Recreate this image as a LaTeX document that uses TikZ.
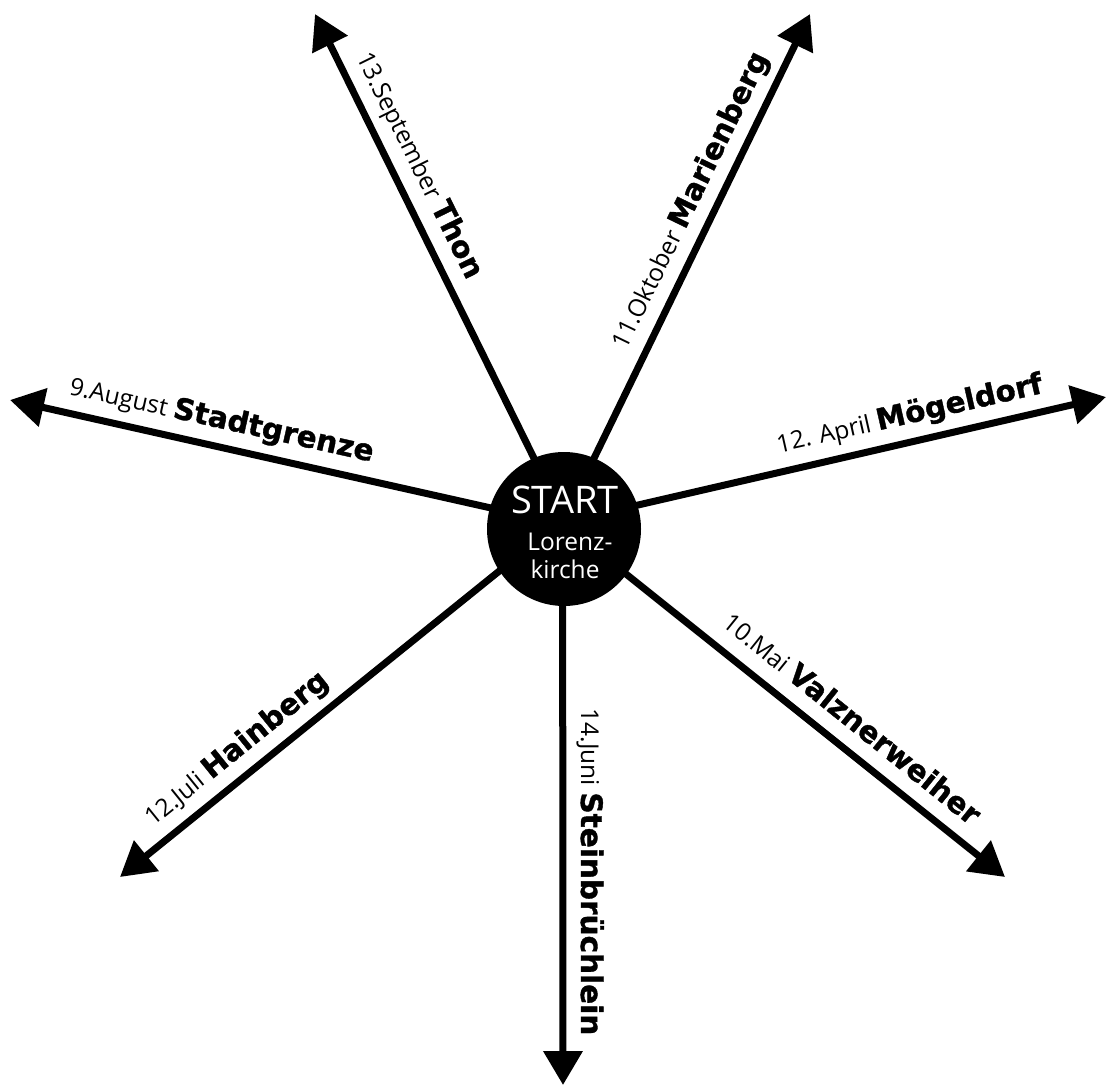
\documentclass[tikz,border=0pt]{standalone}
\usepackage{fontspec}
\setmainfont{Open Sans}
\newfontfamily\heavyfont{DejaVu Sans}[BoldFeatures={FakeBold=1.2}]
\usetikzlibrary{arrows.meta}
\newcommand{\lhvy}[1]{{\heavyfont\bfseries\fontsize{29.5}{33}\selectfont #1}}
\begin{document}
\begin{tikzpicture}[x=1pt, y=-1pt,
  spoke/.style={-{Triangle[length=34pt,width=38pt]}, line width=7pt, shorten <=-4pt},
  lbl/.style={anchor=base, inner sep=0pt, font=\fontsize{24.5}{28}\selectfont},
  hub/.style={circle, fill=black, minimum size=154pt, inner sep=0pt},
  hubtext/.style={anchor=base, inner sep=0pt, text=white}]
\useasboundingbox (0,0) rectangle (1107,1086);
\node[hub] (c) at (564,529) {};
\node[hubtext, font=\fontsize{38}{40}\selectfont] (t1) at (565,513) {START};
\node[hubtext, font=\fontsize{24.5}{28}\selectfont] (t2) at (570,550) {Lorenz-};
\node[hubtext, font=\fontsize{24.5}{28}\selectfont] (t3) at (565,578) {kirche};
\coordinate (e1) at (315,14);
\coordinate (e2) at (810,14);
\coordinate (e3) at (1106,397);
\coordinate (e4) at (10,400);
\coordinate (e5) at (120,877);
\coordinate (e6) at (563,1085);
\coordinate (e7) at (1005,877);
\draw[spoke] (c.113) -- (e1);
\draw[spoke] (c.67) -- (e2);
\draw[spoke] (c.18.5) -- (e3);
\draw[spoke] (c.164) -- (e4);
\draw[spoke] (c.213) -- (e5);
\draw[spoke] (c.269) -- (e6);
\draw[spoke] (c.-36) -- (e7);
\node[lbl, rotate=-63.7] (l1) at (411.8,168.9) {13.September \lhvy{Thon}};
\node[lbl, rotate=64.1] (l2) at (697.8,204.1) {11.Oktober \lhvy{Marienberg}};
\node[lbl, rotate=12.8] (l3) at (911.5,422.9) {12. April \lhvy{Mögeldorf}};
\node[lbl, rotate=-12.5] (l4) at (219.9,428.1) {9.August \lhvy{Stadtgrenze}};
\node[lbl, rotate=38.9] (l5) at (241.7,755.5) {12.Juli \lhvy{Hainberg}};
\node[lbl, rotate=-90] (l6) at (581,872) {14.Juni \lhvy{Steinbrüchlein}};
\node[lbl, rotate=-38.8] (l7) at (845.9,726.1) {10.Mai \lhvy{Valznerweiher}};
\end{tikzpicture}
\end{document}
